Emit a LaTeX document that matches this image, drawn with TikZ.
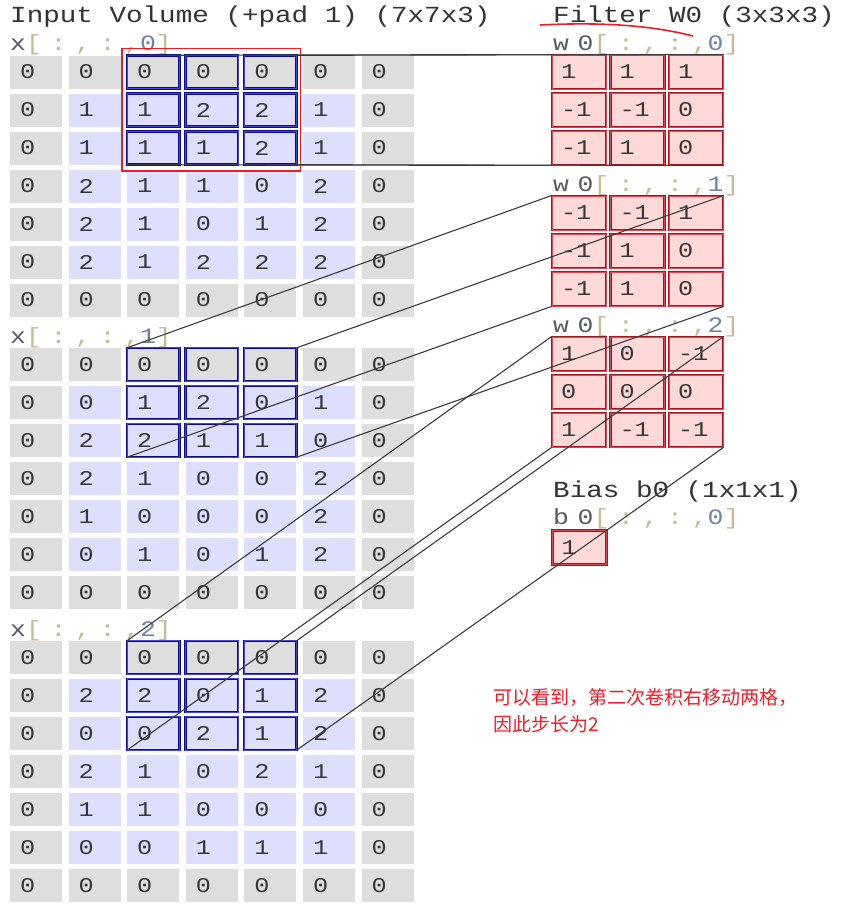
\documentclass[tikz,border=0pt]{standalone}
\usepackage{graphicx}
\usepackage{fontspec}
\setmonofont{Liberation Mono}
\newfontfamily\labfont{Liberation Mono}[LetterSpace=33]
\newfontfamily\cjk{Noto Sans CJK SC}
\usetikzlibrary{positioning}

\definecolor{padgray}{RGB}{222,222,222}
\definecolor{inlav}{RGB}{222,222,255}
\definecolor{winnavy}{RGB}{10,10,140}
\definecolor{winblue}{RGB}{70,70,210}
\definecolor{wpink}{RGB}{255,216,216}
\definecolor{wdark}{RGB}{170,20,30}
\definecolor{wred}{RGB}{225,70,80}
\definecolor{digit}{RGB}{55,55,55}
\definecolor{headgray}{RGB}{50,50,50}
\definecolor{labname}{RGB}{85,90,100}
\definecolor{labpunct}{RGB}{200,185,150}
\definecolor{labidx}{RGB}{110,130,160}
\definecolor{linkgray}{RGB}{60,60,60}
\definecolor{notered}{RGB}{235,30,40}

\newcommand{\digits}[1]{\scalebox{1.2}[1]{#1}}
\newcommand{\sublabel}[2]{\scalebox{1.2}[1]{\labfont\color{labname}#1\color{labpunct}[:,:,\color{labidx}#2\color{labpunct}]}}

% one slice of the padded input: #1 index, #2 top edge, #3 rows
\newcommand{\inslice}[3]{%
  \node[sublbl] (xl#1) at (10,#2-5) {\sublabel{x}{#1}};
  \foreach \vals [count=\r from 0] in {#3} {
    \foreach \v [count=\c from 0] in \vals {
      \pgfmathtruncatemacro\ispad{(\r==0)||(\r==6)||(\c==0)||(\c==6)}
      \ifnum\ispad=1 \def\cst{padcell}\else\def\cst{incell}\fi
      \node[\cst] (x#1-\r-\c) at ({36+58.6*\c},{#2+16.5+38*\r}) {\digits{\v}};
    }
  }
  \foreach \r in {0,1,2} \foreach \c in {2,3,4}
    \draw[winbox] (x#1-\r-\c.north west) rectangle (x#1-\r-\c.south east);
}

% one slice of the filter: #1 index, #2 top edge, #3 rows
\newcommand{\wslice}[3]{%
  \node[sublbl] (wl#1) at (553,#2-5) {\sublabel{w0}{#1}};
  \foreach \vals [count=\r from 0] in {#3} {
    \foreach \v [count=\c from 0] in \vals {
      \node[wcell] (w#1-\r-\c) at ({579+58.5*\c},{#2+17+38*\r}) {\digits{\v}};
    }
  }
}

\begin{document}
\begin{tikzpicture}[
        x=1pt, y=-1pt,
        cell/.style={rectangle, minimum height=33pt, text width=32pt, inner xsep=10pt, inner ysep=0pt,
          align=left, text=digit, font=\ttfamily\fontsize{21}{21}\selectfont},
        padcell/.style={cell, fill=padgray},
        incell/.style={cell, fill=inlav},
        winbox/.style={draw=winnavy, double=winblue, double distance=0.7pt, line width=0.9pt},
        wcell/.style={cell, minimum height=34pt, text width=36pt, inner xsep=9pt, fill=wpink,
          draw=wdark, double=wred, double distance=0.6pt, line width=0.9pt},
        head/.style={anchor=base west, inner sep=0pt, text=headgray, font=\ttfamily\fontsize{23}{23}\selectfont},
        sublbl/.style={anchor=base west, inner sep=0pt, font=\fontsize{22}{22}\selectfont},
        link/.style={draw=linkgray, line width=1.1pt},
        redmark/.style={draw=notered, line width=1.6pt}
    ]
    \path[fill=white, use as bounding box] (0,0) rectangle (867,910);

    % Headings
    \node[head] (inhead) at (10,22) {\scalebox{1.2}[1]{Input Volume (+pad 1) (7x7x3)}};
    \node[head] (whead) at (553,22) {\scalebox{1.2}[1]{Filter W0 (3x3x3)}};

    % Input volume
    \inslice{0}{55.5}{{0,0,0,0,0,0,0},{0,1,1,2,2,1,0},{0,1,1,1,2,1,0},{0,2,1,1,0,2,0},
      {0,2,1,0,1,2,0},{0,2,1,2,2,2,0},{0,0,0,0,0,0,0}}
    \inslice{1}{348}{{0,0,0,0,0,0,0},{0,0,1,2,0,1,0},{0,2,2,1,1,0,0},{0,2,1,0,0,2,0},
      {0,1,0,0,0,2,0},{0,0,1,0,1,2,0},{0,0,0,0,0,0,0}}
    \inslice{2}{641}{{0,0,0,0,0,0,0},{0,2,2,0,1,2,0},{0,0,0,2,1,2,0},{0,2,1,0,2,1,0},
      {0,1,1,0,0,0,0},{0,0,0,1,1,1,0},{0,0,0,0,0,0,0}}
    \draw[redmark] ([shift={(-5,-7)}]x0-0-2.north west) rectangle ([shift={(4,6)}]x0-2-4.south east);

    % Filter and bias
    \wslice{0}{55}{{1,1,1},{-1,-1,0},{-1,1,0}}
    \wslice{1}{196}{{-1,-1,1},{-1,1,0},{-1,1,0}}
    \wslice{2}{337}{{1,0,-1},{0,0,0},{1,-1,-1}}
    \node[head] (bhead) at (553,497) {\scalebox{1.2}[1]{Bias b0 (1x1x1)}};
    \node[sublbl] (bl) at (553,524) {\sublabel{b0}{0}};
    \node[wcell] (b0) at (579.5,547.5) {\digits{1}};

    % Links
    \foreach \k in {0,1,2} {
      \draw[link] (x\k-0-2.north west) -- (w\k-0-0.north west);
      \draw[link] (x\k-0-4.north east) -- (w\k-0-2.north east);
      \draw[link] (x\k-2-2.south west) -- (w\k-2-0.south west);
      \draw[link] (x\k-2-4.south east) -- (w\k-2-2.south east);
    }

    % Notes
    \draw[redmark] (540,25) .. controls (600,22) and (650,25) .. (693,36);
    \node[anchor=north west, inner sep=0pt, align=left, text=notered, font=\cjk\fontsize{19}{27}\selectfont]
      (note) at (493,688) {可以看到，第二次卷积右移动两格，\\因此步长为2};
\end{tikzpicture}
\end{document}
